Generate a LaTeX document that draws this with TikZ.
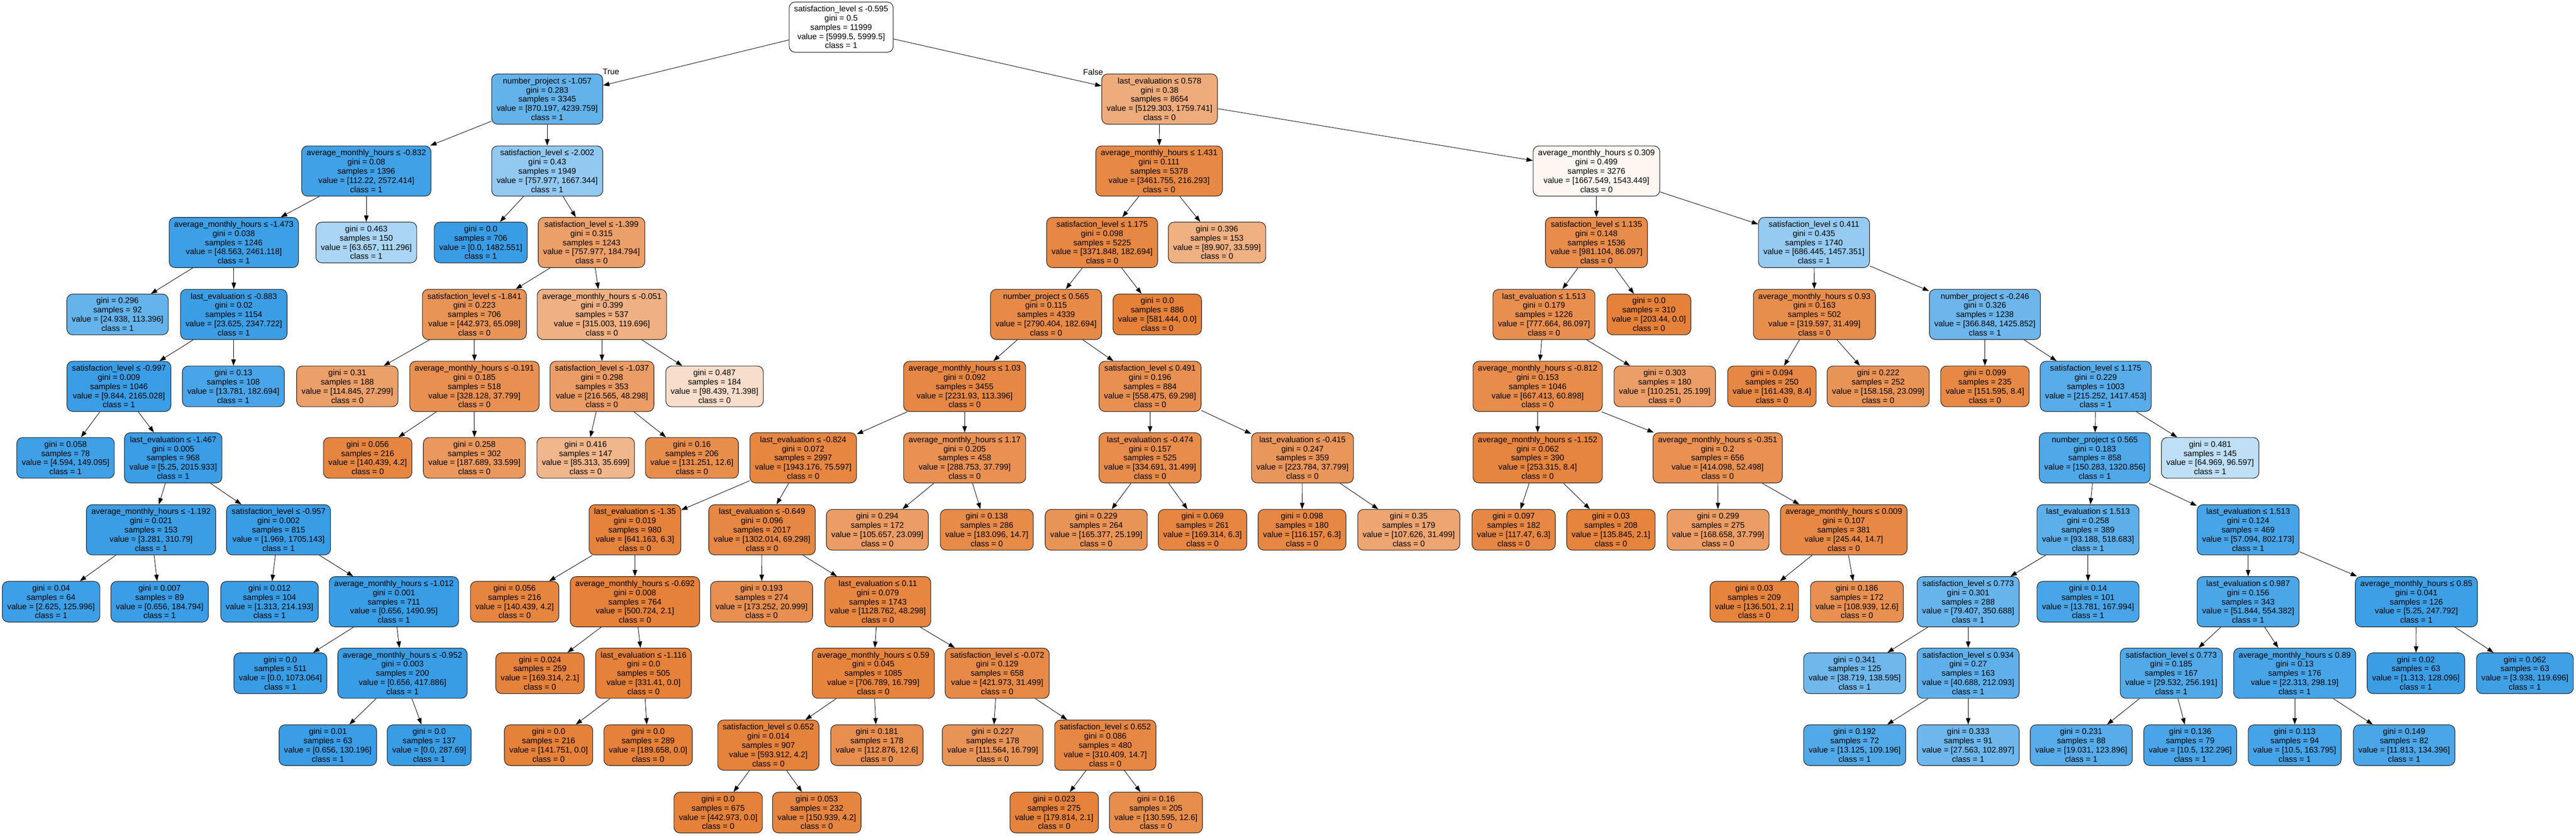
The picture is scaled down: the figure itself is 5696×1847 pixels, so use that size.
\documentclass[tikz,border=0pt]{standalone}
\usepackage{fontspec}
\setmainfont{Liberation Sans}
\usetikzlibrary{arrows.meta}

\definecolor{cls0}{RGB}{229,129,57}
\definecolor{cls1}{RGB}{57,157,229}

\tikzset{
  split/.style={draw=black!85, line width=0.13mm, rounded corners=1.3mm,
    align=center, inner xsep=1.1mm, inner ysep=0.4mm, minimum height=11.1mm,
    font=\fontsize{5.12pt}{5.78pt}\selectfont},
  leaf/.style={split, minimum height=9mm},
  link/.style={-{Triangle[length=1.4mm,width=1mm]}, line width=0.1mm},
  branch/.style={font=\fontsize{5.12pt}{5.78pt}\selectfont, inner sep=0pt}
}
\newcommand{\tedge}[2]{\draw[link] (#1) -- (#2);}

\begin{document}
\begin{tikzpicture}[x=0.1mm, y=-0.1mm]
  \useasboundingbox (0,0) rectangle (5696,1847);
  % Define nodes
  \node[split, fill=white] (root) at (1860,60) {satisfaction\_level ≤ -0.595\\gini = 0.5\\samples = 11999\\value = [5999.5, 5999.5]\\class = 1};
  \node[branch] (lblT) at (1351,159) {True};
  \node[branch] (lblF) at (2417,159) {False};

  \node[split, fill=cls1!79] (L) at (1210,219) {number\_project ≤ -1.057\\gini = 0.283\\samples = 3345\\value = [870.197, 4239.759]\\class = 1};
  \node[split, fill=cls0!66] (R) at (2564,219) {last\_evaluation ≤ 0.578\\gini = 0.38\\samples = 8654\\value = [5129.303, 1759.741]\\class = 0};

  \node[split, fill=cls1!96] (LL) at (810,378) {average\_monthly\_hours ≤ -0.832\\gini = 0.08\\samples = 1396\\value = [112.22, 2572.414]\\class = 1};
  \node[split, fill=cls1!55] (LR) at (1210,378) {satisfaction\_level ≤ -2.002\\gini = 0.43\\samples = 1949\\value = [757.977, 1667.344]\\class = 1};
  \node[split, fill=cls0!94] (RL) at (2563,378) {average\_monthly\_hours ≤ 1.431\\gini = 0.111\\samples = 5378\\value = [3461.755, 216.293]\\class = 0};
  \node[split, fill=cls0!7] (RR) at (3530,378) {average\_monthly\_hours ≤ 0.309\\gini = 0.499\\samples = 3276\\value = [1667.549, 1543.449]\\class = 0};

  \node[split, fill=cls1!98] (LLL) at (517,536) {average\_monthly\_hours ≤ -1.473\\gini = 0.038\\samples = 1246\\value = [48.563, 2461.118]\\class = 1};
  \node[leaf, fill=cls1!43] (LLR) at (810,536) {gini = 0.463\\samples = 150\\value = [63.657, 111.296]\\class = 1};
  \node[leaf, fill=cls1] (LRL) at (1063,536) {gini = 0.0\\samples = 706\\value = [0.0, 1482.551]\\class = 1};
  \node[split, fill=cls0!76] (LRR) at (1308,536) {satisfaction\_level ≤ -1.399\\gini = 0.315\\samples = 1243\\value = [757.977, 184.794]\\class = 0};
  \node[split, fill=cls0!95] (RLL) at (2437,536) {satisfaction\_level ≤ 1.175\\gini = 0.098\\samples = 5225\\value = [3371.848, 182.694]\\class = 0};
  \node[leaf, fill=cls0!63] (RLR) at (2691,536) {gini = 0.396\\samples = 153\\value = [89.907, 33.599]\\class = 0};
  \node[split, fill=cls0!91] (RRL) at (3530,536) {satisfaction\_level ≤ 1.135\\gini = 0.148\\samples = 1536\\value = [981.104, 86.097]\\class = 0};
  \node[split, fill=cls1!53] (RRR) at (4011,536) {satisfaction\_level ≤ 0.411\\gini = 0.435\\samples = 1740\\value = [686.445, 1457.351]\\class = 1};

  \node[leaf, fill=cls1!78] (LLLL) at (260,695) {gini = 0.296\\samples = 92\\value = [24.938, 113.396]\\class = 1};
  \node[split, fill=cls1!99] (LLLR) at (517,695) {last\_evaluation ≤ -0.883\\gini = 0.02\\samples = 1154\\value = [23.625, 2347.722]\\class = 1};
  \node[split, fill=cls0!85] (LRRL) at (1049,695) {satisfaction\_level ≤ -1.841\\gini = 0.223\\samples = 706\\value = [442.973, 65.098]\\class = 0};
  \node[split, fill=cls0!62] (LRRR) at (1331,695) {average\_monthly\_hours ≤ -0.051\\gini = 0.399\\samples = 537\\value = [315.003, 119.696]\\class = 0};
  \node[split, fill=cls0!93] (RLLL) at (2313,695) {number\_project ≤ 0.565\\gini = 0.115\\samples = 4339\\value = [2790.404, 182.694]\\class = 0};
  \node[leaf, fill=cls0] (RLLR) at (2559,695) {gini = 0.0\\samples = 886\\value = [581.444, 0.0]\\class = 0};
  \node[split, fill=cls0!89] (RRLL) at (3414,695) {last\_evaluation ≤ 1.513\\gini = 0.179\\samples = 1226\\value = [777.664, 86.097]\\class = 0};
  \node[leaf, fill=cls0] (RRLR) at (3646,695) {gini = 0.0\\samples = 310\\value = [203.44, 0.0]\\class = 0};
  \node[split, fill=cls0!90] (RRRL) at (4012,695) {average\_monthly\_hours ≤ 0.93\\gini = 0.163\\samples = 502\\value = [319.597, 31.499]\\class = 0};
  \node[split, fill=cls1!74] (RRRR) at (4389,695) {number\_project ≤ -0.246\\gini = 0.326\\samples = 1238\\value = [366.848, 1425.852]\\class = 1};

  \node[split, fill=cls1!99.5] (LLLRL) at (263,854) {satisfaction\_level ≤ -0.997\\gini = 0.009\\samples = 1046\\value = [9.844, 2165.028]\\class = 1};
  \node[leaf, fill=cls1!92] (LLLRR) at (516,854) {gini = 0.13\\samples = 108\\value = [13.781, 182.694]\\class = 1};
  \node[leaf, fill=cls0!76] (LRRLL) at (768,854) {gini = 0.31\\samples = 188\\value = [114.845, 27.299]\\class = 0};
  \node[split, fill=cls0!88] (LRRLR) at (1049,854) {average\_monthly\_hours ≤ -0.191\\gini = 0.185\\samples = 518\\value = [328.128, 37.799]\\class = 0};
  \node[split, fill=cls0!78] (LRRRL) at (1331,854) {satisfaction\_level ≤ -1.037\\gini = 0.298\\samples = 353\\value = [216.565, 48.298]\\class = 0};
  \node[leaf, fill=cls0!27] (LRRRR) at (1580,854) {gini = 0.487\\samples = 184\\value = [98.439, 71.398]\\class = 0};
  \node[split, fill=cls0!95] (RLLLL) at (2133,854) {average\_monthly\_hours ≤ 1.03\\gini = 0.092\\samples = 3455\\value = [2231.93, 113.396]\\class = 0};
  \node[split, fill=cls0!88] (RLLLR) at (2543,854) {satisfaction\_level ≤ 0.491\\gini = 0.196\\samples = 884\\value = [558.475, 69.298]\\class = 0};
  \node[split, fill=cls0!91] (RRLLL) at (3400,854) {average\_monthly\_hours ≤ -0.812\\gini = 0.153\\samples = 1046\\value = [667.413, 60.898]\\class = 0};
  \node[leaf, fill=cls0!77] (RRLLR) at (3681,854) {gini = 0.303\\samples = 180\\value = [110.251, 25.199]\\class = 0};
  \node[leaf, fill=cls0!95] (RRRLL) at (3918,854) {gini = 0.094\\samples = 250\\value = [161.439, 8.4]\\class = 0};
  \node[leaf, fill=cls0!85] (RRRLR) at (4153,854) {gini = 0.222\\samples = 252\\value = [158.158, 23.099]\\class = 0};
  \node[leaf, fill=cls0!94] (RRRRL) at (4389,854) {gini = 0.099\\samples = 235\\value = [151.595, 8.4]\\class = 0};
  \node[split, fill=cls1!85] (RRRRR) at (4634,854) {satisfaction\_level ≤ 1.175\\gini = 0.229\\samples = 1003\\value = [215.252, 1417.453]\\class = 1};

  \node[leaf, fill=cls1!97] (LLLRLL) at (145,1012) {gini = 0.058\\samples = 78\\value = [4.594, 149.095]\\class = 1};
  \node[split, fill=cls1!99.7] (LLLRLR) at (383,1012) {last\_evaluation ≤ -1.467\\gini = 0.005\\samples = 968\\value = [5.25, 2015.933]\\class = 1};
  \node[leaf, fill=cls0!97] (LRRLRL) at (813,1012) {gini = 0.056\\samples = 216\\value = [140.439, 4.2]\\class = 0};
  \node[leaf, fill=cls0!82] (LRRLRR) at (1049,1012) {gini = 0.258\\samples = 302\\value = [187.689, 33.599]\\class = 0};
  \node[leaf, fill=cls0!58] (LRRRLL) at (1295,1012) {gini = 0.416\\samples = 147\\value = [85.313, 35.699]\\class = 0};
  \node[leaf, fill=cls0!90] (LRRRLR) at (1530,1012) {gini = 0.16\\samples = 206\\value = [131.251, 12.6]\\class = 0};
  \node[split, fill=cls0!96] (RLLLLL) at (1776,1012) {last\_evaluation ≤ -0.824\\gini = 0.072\\samples = 2997\\value = [1943.176, 75.597]\\class = 0};
  \node[split, fill=cls0!87] (RLLLLR) at (2133,1012) {average\_monthly\_hours ≤ 1.17\\gini = 0.205\\samples = 458\\value = [288.753, 37.799]\\class = 0};
  \node[split, fill=cls0!91] (RLLLRL) at (2543,1012) {last\_evaluation ≤ -0.474\\gini = 0.157\\samples = 525\\value = [334.691, 31.499]\\class = 0};
  \node[split, fill=cls0!83] (RLLLRR) at (2880,1012) {last\_evaluation ≤ -0.415\\gini = 0.247\\samples = 359\\value = [223.784, 37.799]\\class = 0};
  \node[split, fill=cls0!97] (RRLLLL) at (3400,1012) {average\_monthly\_hours ≤ -1.152\\gini = 0.062\\samples = 390\\value = [253.315, 8.4]\\class = 0};
  \node[split, fill=cls0!87] (RRLLLR) at (3798,1012) {average\_monthly\_hours ≤ -0.351\\gini = 0.2\\samples = 656\\value = [414.098, 52.498]\\class = 0};
  \node[split, fill=cls1!89] (RRRRRL) at (4632,1012) {number\_project ≤ 0.565\\gini = 0.183\\samples = 858\\value = [150.283, 1320.856]\\class = 1};
  \node[leaf, fill=cls1!33] (RRRRRR) at (4887,1012) {gini = 0.481\\samples = 145\\value = [64.969, 96.597]\\class = 1};

  \node[split, fill=cls1!99] (LLLRLRL) at (334,1171) {average\_monthly\_hours ≤ -1.192\\gini = 0.021\\samples = 153\\value = [3.281, 310.79]\\class = 1};
  \node[split, fill=cls1!99.9] (LLLRLRR) at (616,1171) {satisfaction\_level ≤ -0.957\\gini = 0.002\\samples = 815\\value = [1.969, 1705.143]\\class = 1};
  \node[split, fill=cls0!99] (RLLLLLL) at (1404,1171) {last\_evaluation ≤ -1.35\\gini = 0.019\\samples = 980\\value = [641.163, 6.3]\\class = 0};
  \node[split, fill=cls0!95] (RLLLLLR) at (1685,1171) {last\_evaluation ≤ -0.649\\gini = 0.096\\samples = 2017\\value = [1302.014, 69.298]\\class = 0};
  \node[leaf, fill=cls0!78] (RLLLLRL) at (1940,1171) {gini = 0.294\\samples = 172\\value = [105.657, 23.099]\\class = 0};
  \node[leaf, fill=cls0!92] (RLLLLRR) at (2182,1171) {gini = 0.138\\samples = 286\\value = [183.096, 14.7]\\class = 0};
  \node[leaf, fill=cls0!85] (RLLLRLL) at (2424,1171) {gini = 0.229\\samples = 264\\value = [165.377, 25.199]\\class = 0};
  \node[leaf, fill=cls0!96] (RLLLRLR) at (2659,1171) {gini = 0.069\\samples = 261\\value = [169.314, 6.3]\\class = 0};
  \node[leaf, fill=cls0!95] (RLLLRRL) at (2879,1171) {gini = 0.098\\samples = 180\\value = [116.157, 6.3]\\class = 0};
  \node[leaf, fill=cls0!71] (RLLLRRR) at (3115,1171) {gini = 0.35\\samples = 179\\value = [107.626, 31.499]\\class = 0};
  \node[leaf, fill=cls0!95] (RRLLLLL) at (3347,1171) {gini = 0.097\\samples = 182\\value = [117.47, 6.3]\\class = 0};
  \node[leaf, fill=cls0!98] (RRLLLLR) at (3562,1171) {gini = 0.03\\samples = 208\\value = [135.845, 2.1]\\class = 0};
  \node[leaf, fill=cls0!78] (RRLLLRL) at (3799,1171) {gini = 0.299\\samples = 275\\value = [168.658, 37.799]\\class = 0};
  \node[split, fill=cls0!94] (RRLLLRR) at (4077,1171) {average\_monthly\_hours ≤ 0.009\\gini = 0.107\\samples = 381\\value = [245.44, 14.7]\\class = 0};
  \node[split, fill=cls1!82] (RRRRRLL) at (4617,1171) {last\_evaluation ≤ 1.513\\gini = 0.258\\samples = 389\\value = [93.188, 518.683]\\class = 1};
  \node[split, fill=cls1!93] (RRRRRLR) at (4971,1171) {last\_evaluation ≤ 1.513\\gini = 0.124\\samples = 469\\value = [57.094, 802.173]\\class = 1};

  \node[leaf, fill=cls1!98] (LLLRLRLL) at (113,1330) {gini = 0.04\\samples = 64\\value = [2.625, 125.996]\\class = 1};
  \node[leaf, fill=cls1!99.6] (LLLRLRLR) at (353,1330) {gini = 0.007\\samples = 89\\value = [0.656, 184.794]\\class = 1};
  \node[leaf, fill=cls1!99.4] (LLLRLRRL) at (596,1330) {gini = 0.012\\samples = 104\\value = [1.313, 214.193]\\class = 1};
  \node[split, fill=cls1] (LLLRLRRR) at (871,1330) {average\_monthly\_hours ≤ -1.012\\gini = 0.001\\samples = 711\\value = [0.656, 1490.95]\\class = 1};
  \node[leaf, fill=cls0!97] (RLLLLLLL) at (1138,1330) {gini = 0.056\\samples = 216\\value = [140.439, 4.2]\\class = 0};
  \node[split, fill=cls0!99.6] (RLLLLLLR) at (1404,1330) {average\_monthly\_hours ≤ -0.692\\gini = 0.008\\samples = 764\\value = [500.724, 2.1]\\class = 0};
  \node[leaf, fill=cls0!88] (RLLLLLRL) at (1684,1330) {gini = 0.193\\samples = 274\\value = [173.252, 20.999]\\class = 0};
  \node[split, fill=cls0!96] (RLLLLLRR) at (1941,1330) {last\_evaluation ≤ 0.11\\gini = 0.079\\samples = 1743\\value = [1128.762, 48.298]\\class = 0};
  \node[leaf, fill=cls0!98] (RRLLLRRL) at (3879,1330) {gini = 0.03\\samples = 209\\value = [136.501, 2.1]\\class = 0};
  \node[leaf, fill=cls0!88] (RRLLLRRR) at (4106,1330) {gini = 0.186\\samples = 172\\value = [108.939, 12.6]\\class = 0};
  \node[split, fill=cls1!77] (RRRRRLLL) at (4352,1330) {satisfaction\_level ≤ 0.773\\gini = 0.301\\samples = 288\\value = [79.407, 350.688]\\class = 1};
  \node[leaf, fill=cls1!92] (RRRRRLLR) at (4617,1330) {gini = 0.14\\samples = 101\\value = [13.781, 167.994]\\class = 1};
  \node[split, fill=cls1!91] (RRRRRLRL) at (4971,1330) {last\_evaluation ≤ 0.987\\gini = 0.156\\samples = 343\\value = [51.844, 554.382]\\class = 1};
  \node[split, fill=cls1!98] (RRRRRLRR) at (5343,1330) {average\_monthly\_hours ≤ 0.85\\gini = 0.041\\samples = 126\\value = [5.25, 247.792]\\class = 1};

  \node[leaf, fill=cls1] (LLLRLRRRL) at (620,1488) {gini = 0.0\\samples = 511\\value = [0.0, 1073.064]\\class = 1};
  \node[split, fill=cls1!99.8] (LLLRLRRRR) at (890,1488) {average\_monthly\_hours ≤ -0.952\\gini = 0.003\\samples = 200\\value = [0.656, 417.886]\\class = 1};
  \node[leaf, fill=cls0!99] (RLLLLLLRL) at (1194,1488) {gini = 0.024\\samples = 259\\value = [169.314, 2.1]\\class = 0};
  \node[split, fill=cls0] (RLLLLLLRR) at (1423,1488) {last\_evaluation ≤ -1.116\\gini = 0.0\\samples = 505\\value = [331.41, 0.0]\\class = 0};
  \node[split, fill=cls0!98] (RLLLLLRRL) at (1931,1488) {average\_monthly\_hours ≤ 0.59\\gini = 0.045\\samples = 1085\\value = [706.789, 16.799]\\class = 0};
  \node[split, fill=cls0!93] (RLLLLLRRR) at (2205,1488) {satisfaction\_level ≤ -0.072\\gini = 0.129\\samples = 658\\value = [421.973, 31.499]\\class = 0};
  \node[leaf, fill=cls1!72] (RRRRRLLLL) at (4101,1488) {gini = 0.341\\samples = 125\\value = [38.719, 138.595]\\class = 1};
  \node[split, fill=cls1!81] (RRRRRLLLR) at (4352,1488) {satisfaction\_level ≤ 0.934\\gini = 0.27\\samples = 163\\value = [40.688, 212.093]\\class = 1};
  \node[split, fill=cls1!88] (RRRRRLRLL) at (4801,1488) {satisfaction\_level ≤ 0.773\\gini = 0.185\\samples = 167\\value = [29.532, 256.191]\\class = 1};
  \node[split, fill=cls1!93] (RRRRRLRLR) at (5074,1488) {average\_monthly\_hours ≤ 0.89\\gini = 0.13\\samples = 176\\value = [22.313, 298.19]\\class = 1};
  \node[leaf, fill=cls1!99] (RRRRRLRRL) at (5342,1488) {gini = 0.02\\samples = 63\\value = [1.313, 128.096]\\class = 1};
  \node[leaf, fill=cls1!97] (RRRRRLRRR) at (5583,1488) {gini = 0.062\\samples = 63\\value = [3.938, 119.696]\\class = 1};

  \node[leaf, fill=cls1!99.5] (LLLRLRRRRL) at (725,1647) {gini = 0.01\\samples = 63\\value = [0.656, 130.196]\\class = 1};
  \node[leaf, fill=cls1] (LLLRLRRRRR) at (949,1647) {gini = 0.0\\samples = 137\\value = [0.0, 287.69]\\class = 1};
  \node[leaf, fill=cls0] (RLLLLLLRRL) at (1213,1647) {gini = 0.0\\samples = 216\\value = [141.751, 0.0]\\class = 0};
  \node[leaf, fill=cls0] (RLLLLLLRRR) at (1433,1647) {gini = 0.0\\samples = 289\\value = [189.658, 0.0]\\class = 0};
  \node[split, fill=cls0!99] (RLLLLLRRLL) at (1699,1647) {satisfaction\_level ≤ 0.652\\gini = 0.014\\samples = 907\\value = [593.912, 4.2]\\class = 0};
  \node[leaf, fill=cls0!89] (RLLLLLRRLR) at (1939,1647) {gini = 0.181\\samples = 178\\value = [112.876, 12.6]\\class = 0};
  \node[leaf, fill=cls0!85] (RLLLLLRRRL) at (2195,1647) {gini = 0.227\\samples = 178\\value = [111.564, 16.799]\\class = 0};
  \node[split, fill=cls0!95] (RLLLLLRRRR) at (2444,1647) {satisfaction\_level ≤ 0.652\\gini = 0.086\\samples = 480\\value = [310.409, 14.7]\\class = 0};
  \node[leaf, fill=cls1!88] (RRRRRLLLRL) at (4101,1647) {gini = 0.192\\samples = 72\\value = [13.125, 109.196]\\class = 1};
  \node[leaf, fill=cls1!73] (RRRRRLLLRR) at (4352,1647) {gini = 0.333\\samples = 91\\value = [27.563, 102.897]\\class = 1};
  \node[leaf, fill=cls1!85] (RRRRRLRLLL) at (4602,1647) {gini = 0.231\\samples = 88\\value = [19.031, 123.896]\\class = 1};
  \node[leaf, fill=cls1!92] (RRRRRLRLLR) at (4843,1647) {gini = 0.136\\samples = 79\\value = [10.5, 132.296]\\class = 1};
  \node[leaf, fill=cls1!94] (RRRRRLRLRL) at (5074,1647) {gini = 0.113\\samples = 94\\value = [10.5, 163.795]\\class = 1};
  \node[leaf, fill=cls1!91] (RRRRRLRLRR) at (5316,1647) {gini = 0.149\\samples = 82\\value = [11.813, 134.396]\\class = 1};

  \node[leaf, fill=cls0] (RLLLLLRRLLL) at (1588,1796) {gini = 0.0\\samples = 675\\value = [442.973, 0.0]\\class = 0};
  \node[leaf, fill=cls0!97] (RLLLLLRRLLR) at (1806,1796) {gini = 0.053\\samples = 232\\value = [150.939, 4.2]\\class = 0};
  \node[leaf, fill=cls0!99] (RLLLLLRRRRL) at (2331,1796) {gini = 0.023\\samples = 275\\value = [179.814, 2.1]\\class = 0};
  \node[leaf, fill=cls0!90] (RLLLLLRRRRR) at (2556,1796) {gini = 0.16\\samples = 205\\value = [130.595, 12.6]\\class = 0};

  % Connect nodes
  \tedge{root}{L} \tedge{root}{R}
  \tedge{L}{LL} \tedge{L}{LR}
  \tedge{R}{RL} \tedge{R}{RR}
  \tedge{LL}{LLL} \tedge{LL}{LLR}
  \tedge{LR}{LRL} \tedge{LR}{LRR}
  \tedge{RL}{RLL} \tedge{RL}{RLR}
  \tedge{RR}{RRL} \tedge{RR}{RRR}
  \tedge{LLL}{LLLL} \tedge{LLL}{LLLR}
  \tedge{LRR}{LRRL} \tedge{LRR}{LRRR}
  \tedge{RLL}{RLLL} \tedge{RLL}{RLLR}
  \tedge{RRL}{RRLL} \tedge{RRL}{RRLR}
  \tedge{RRR}{RRRL} \tedge{RRR}{RRRR}
  \tedge{LLLR}{LLLRL} \tedge{LLLR}{LLLRR}
  \tedge{LRRL}{LRRLL} \tedge{LRRL}{LRRLR}
  \tedge{LRRR}{LRRRL} \tedge{LRRR}{LRRRR}
  \tedge{RLLL}{RLLLL} \tedge{RLLL}{RLLLR}
  \tedge{RRLL}{RRLLL} \tedge{RRLL}{RRLLR}
  \tedge{RRRL}{RRRLL} \tedge{RRRL}{RRRLR}
  \tedge{RRRR}{RRRRL} \tedge{RRRR}{RRRRR}
  \tedge{LLLRL}{LLLRLL} \tedge{LLLRL}{LLLRLR}
  \tedge{LRRLR}{LRRLRL} \tedge{LRRLR}{LRRLRR}
  \tedge{LRRRL}{LRRRLL} \tedge{LRRRL}{LRRRLR}
  \tedge{RLLLL}{RLLLLL} \tedge{RLLLL}{RLLLLR}
  \tedge{RLLLR}{RLLLRL} \tedge{RLLLR}{RLLLRR}
  \tedge{RRLLL}{RRLLLL} \tedge{RRLLL}{RRLLLR}
  \tedge{RRRRR}{RRRRRL} \tedge{RRRRR}{RRRRRR}
  \tedge{LLLRLR}{LLLRLRL} \tedge{LLLRLR}{LLLRLRR}
  \tedge{RLLLLL}{RLLLLLL} \tedge{RLLLLL}{RLLLLLR}
  \tedge{RLLLLR}{RLLLLRL} \tedge{RLLLLR}{RLLLLRR}
  \tedge{RLLLRL}{RLLLRLL} \tedge{RLLLRL}{RLLLRLR}
  \tedge{RLLLRR}{RLLLRRL} \tedge{RLLLRR}{RLLLRRR}
  \tedge{RRLLLL}{RRLLLLL} \tedge{RRLLLL}{RRLLLLR}
  \tedge{RRLLLR}{RRLLLRL} \tedge{RRLLLR}{RRLLLRR}
  \tedge{RRRRRL}{RRRRRLL} \tedge{RRRRRL}{RRRRRLR}
  \tedge{LLLRLRL}{LLLRLRLL} \tedge{LLLRLRL}{LLLRLRLR}
  \tedge{LLLRLRR}{LLLRLRRL} \tedge{LLLRLRR}{LLLRLRRR}
  \tedge{RLLLLLL}{RLLLLLLL} \tedge{RLLLLLL}{RLLLLLLR}
  \tedge{RLLLLLR}{RLLLLLRL} \tedge{RLLLLLR}{RLLLLLRR}
  \tedge{RRLLLRR}{RRLLLRRL} \tedge{RRLLLRR}{RRLLLRRR}
  \tedge{RRRRRLL}{RRRRRLLL} \tedge{RRRRRLL}{RRRRRLLR}
  \tedge{RRRRRLR}{RRRRRLRL} \tedge{RRRRRLR}{RRRRRLRR}
  \tedge{LLLRLRRR}{LLLRLRRRL} \tedge{LLLRLRRR}{LLLRLRRRR}
  \tedge{RLLLLLLR}{RLLLLLLRL} \tedge{RLLLLLLR}{RLLLLLLRR}
  \tedge{RLLLLLRR}{RLLLLLRRL} \tedge{RLLLLLRR}{RLLLLLRRR}
  \tedge{RRRRRLLL}{RRRRRLLLL} \tedge{RRRRRLLL}{RRRRRLLLR}
  \tedge{RRRRRLRL}{RRRRRLRLL} \tedge{RRRRRLRL}{RRRRRLRLR}
  \tedge{RRRRRLRR}{RRRRRLRRL} \tedge{RRRRRLRR}{RRRRRLRRR}
  \tedge{LLLRLRRRR}{LLLRLRRRRL} \tedge{LLLRLRRRR}{LLLRLRRRRR}
  \tedge{RLLLLLLRR}{RLLLLLLRRL} \tedge{RLLLLLLRR}{RLLLLLLRRR}
  \tedge{RLLLLLRRL}{RLLLLLRRLL} \tedge{RLLLLLRRL}{RLLLLLRRLR}
  \tedge{RLLLLLRRR}{RLLLLLRRRL} \tedge{RLLLLLRRR}{RLLLLLRRRR}
  \tedge{RRRRRLLLR}{RRRRRLLLRL} \tedge{RRRRRLLLR}{RRRRRLLLRR}
  \tedge{RRRRRLRLL}{RRRRRLRLLL} \tedge{RRRRRLRLL}{RRRRRLRLLR}
  \tedge{RRRRRLRLR}{RRRRRLRLRL} \tedge{RRRRRLRLR}{RRRRRLRLRR}
  \tedge{RLLLLLRRLL}{RLLLLLRRLLL} \tedge{RLLLLLRRLL}{RLLLLLRRLLR}
  \tedge{RLLLLLRRRR}{RLLLLLRRRRL} \tedge{RLLLLLRRRR}{RLLLLLRRRRR}
\end{tikzpicture}
\end{document}
